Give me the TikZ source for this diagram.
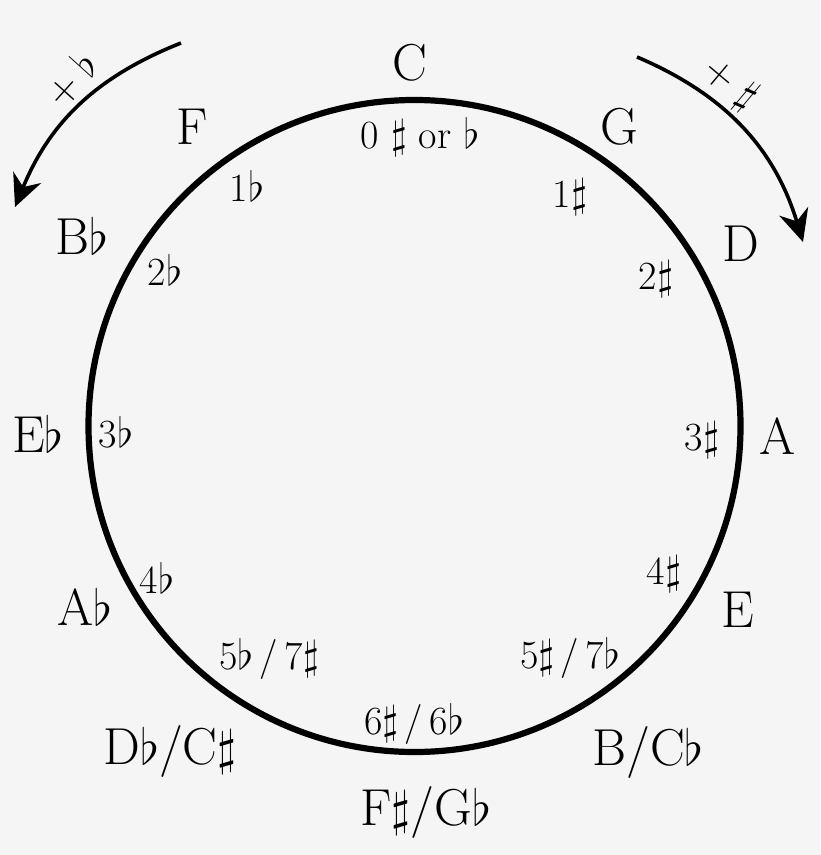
\documentclass[tikz,border=0pt]{standalone}
\usetikzlibrary{arrows.meta}
\definecolor{paper}{HTML}{F5F5F5}

\begin{document}
\begin{tikzpicture}[x=0.5pt,y=-0.5pt,
keynode/.style={font=\fontsize{26}{30}\selectfont,inner sep=0pt},
countnode/.style={font=\fontsize{20}{24}\selectfont,inner sep=0pt},
arrownote/.style={font=\fontsize{20}{24}\selectfont,inner sep=0pt},
turnarrow/.style={line width=1.8pt,-{Stealth[length=16pt,width=15pt]}}]

\fill[paper] (0,0) rectangle (820,855);
\useasboundingbox (0,0) rectangle (820,855);

\coordinate (ctr) at (414.5,426);
\draw[line width=3.1pt] (ctr) circle [radius=326];

% keys round the circle
\node (kC)  at (410,63)  [keynode] {C};
\node (kG)  at (619,127) [keynode] {G};
\node (kD)  at (741,244) [keynode] {D};
\node (kA)  at (778,436) [keynode] {A};
\node (kE)  at (738,610) [keynode] {E};
\node (kB)  at (648,752) [keynode] {B/C$\flat$};
\node (kFs) at (426,812) [keynode] {F$\sharp$/G$\flat$};
\node (kDb) at (170,751) [keynode] {D$\flat$/C$\sharp$};
\node (kAb) at (85,607)  [keynode] {A$\flat$};
\node (kEb) at (38,434)  [keynode] {E$\flat$};
\node (kBb) at (82,236)  [keynode] {B$\flat$};
\node (kF)  at (192,127) [keynode] {F};

% number of sharps or flats
\node (s0) at (420,137) [countnode] {0 $\sharp$ or $\flat$};
\node (s1) at (570,197) [countnode] {1$\sharp$};
\node (s2) at (656,279) [countnode] {2$\sharp$};
\node (s3) at (702,440) [countnode] {3$\sharp$};
\node (s4) at (664,574) [countnode] {4$\sharp$};
\node (s5) at (570,658) [countnode] {5$\sharp$\,/\,7$\flat$};
\node (s6) at (414,724) [countnode] {6$\sharp$\,/\,6$\flat$};
\node (f5) at (269,659) [countnode] {5$\flat$\,/\,7$\sharp$};
\node (f4) at (157,578) [countnode] {4$\flat$};
\node (f3) at (116,432) [countnode] {3$\flat$};
\node (f2) at (165,270) [countnode] {2$\flat$};
\node (f1) at (247,186) [countnode] {1$\flat$};

% direction arrows
\coordinate (fs) at (181,43);
\coordinate (fe) at (15,207);
\coordinate (ss) at (637,57);
\coordinate (se) at (803,242);
\draw[turnarrow] (fs) to[bend right=23] (fe);
\draw[turnarrow] (ss) to[bend left=25] (se);
\node (fn) at (71,79) [arrownote,rotate=48] {$+\;\flat$};
\node (sn) at (730,84) [arrownote,rotate=-40] {$+\;\sharp$};

\end{tikzpicture}
\end{document}
